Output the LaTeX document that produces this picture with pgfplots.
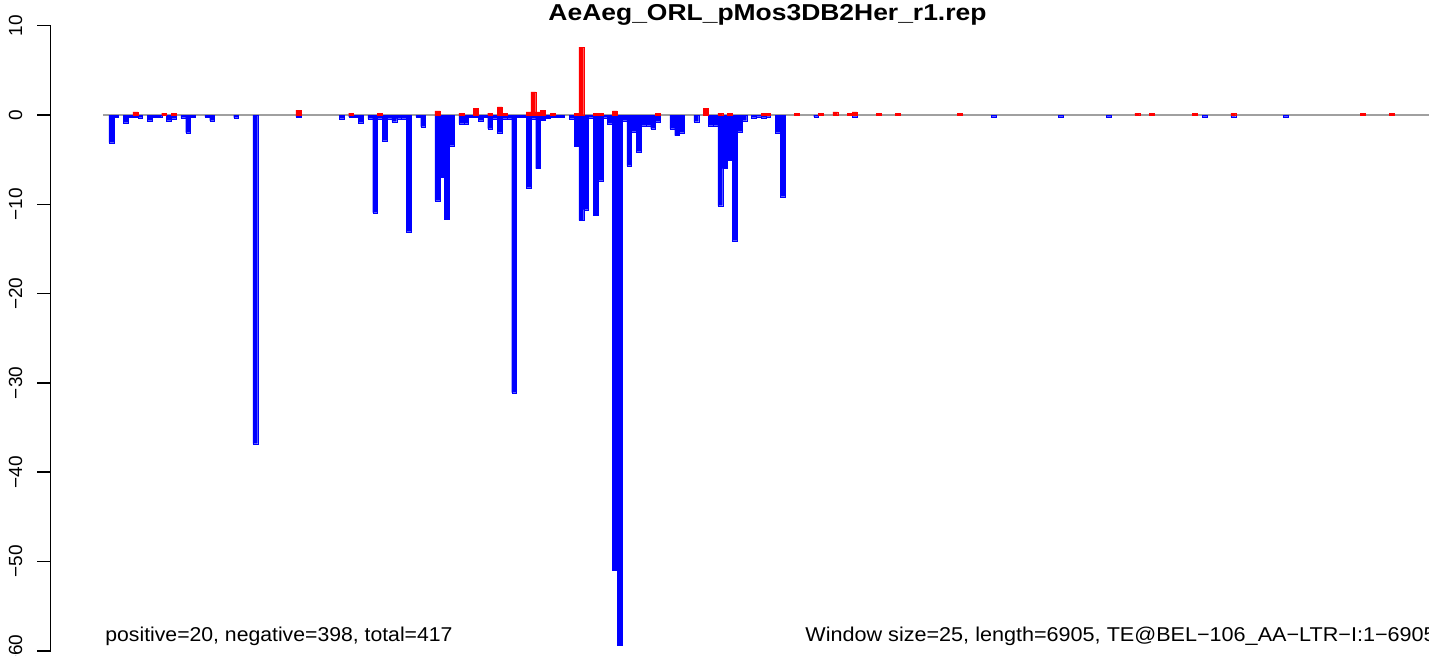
\documentclass[border=0pt]{standalone}
\usepackage{pgfplots}
\pgfplotsset{compat=1.18}
\usepackage{pgfplotstable}
\usepackage{graphicx}
\usepackage{fontspec}
\setmainfont{Liberation Sans}
\definecolor{rred}{RGB}{255,0,0}
\definecolor{rblue}{RGB}{0,0,255}
\definecolor{zline}{RGB}{160,160,160}

\pgfplotstableread{
k v
0 -3.1
1 -0.2
3 -0.86
4 -0.2
5 -0.2
6 -0.3
8 -0.64
9 -0.2
10 -0.2
12 -0.64
13 -0.41
15 -0.3
16 -1.98
17 -0.2
20 -0.2
21 -0.64
26 -0.3
30 -36.8
39 -0.2
48 -0.41
50 -0.2
51 -0.2
52 -0.86
54 -0.41
55 -10.94
56 -0.41
57 -2.87
58 -0.41
59 -0.75
60 -0.41
61 -0.41
62 -13.06
64 -0.2
65 -1.3
68 -9.6
69 -7.0
70 -11.7
71 -3.43
73 -0.97
74 -0.97
75 -0.2
76 -0.2
77 -0.64
78 -0.2
79 -1.53
80 -0.41
81 -1.98
82 -0.41
83 -0.41
84 -31.1
85 -0.2
86 -0.2
87 -8.14
88 -0.41
89 -6.0
90 -0.56
91 -0.34
92 -0.2
93 -0.2
94 -0.2
96 -0.41
97 -3.47
98 -11.8
99 -10.6
100 -0.3
101 -11.2
102 -7.35
103 -0.3
104 -0.97
105 -50.95
106 -59.35
107 -0.64
108 -5.68
109 -1.87
110 -4.1
111 -1.2
112 -1.2
113 -1.53
114 -0.75
117 -1.53
118 -2.3
119 -1.98
122 -0.75
125 -1.2
126 -1.2
127 -10.15
128 -6.0
129 -5.1
130 -14.07
131 -1.87
132 -0.64
134 -0.3
135 -0.19
136 -0.3
137 -0.19
139 -1.98
140 -9.15
147 -0.19
155 -0.19
184 -0.19
198 -0.19
208 -0.19
228 -0.19
234 -0.19
245 -0.19
}\negdata

\pgfplotstableread{
k v
5 0.34
11 0.22
13 0.22
39 0.56
50 0.22
56 0.22
68 0.45
73 0.22
76 0.78
79 0.22
81 0.9
82 0.22
87 0.34
88 2.6
89 0.34
90 0.56
92 0.22
97 0.22
98 7.6
101 0.22
102 0.22
105 0.45
114 0.22
124 0.78
127 0.22
129 0.22
136 0.22
137 0.22
143 0.22
148 0.22
151 0.34
154 0.22
155 0.34
160 0.22
164 0.22
177 0.22
214 0.22
217 0.22
226 0.22
234 0.22
261 0.22
267 0.22
}\posdata

\begin{document}
\begin{tikzpicture}
\begin{axis}[
  at={(25.35pt,-325.4pt)}, anchor=south west,
  scale only axis, width=689.15pt, height=312.55pt,
  xmin=-12.16, xmax=275.34, ymin=-60, ymax=10,
  axis x line=none, axis y line*=left,
  ytick={-60,-50,-40,-30,-20,-10,0,10},
  yticklabels={−60,−50,−40,−30,−20,−10,0,10},
  tick align=outside, major tick length=6.65pt,
  axis line style={line width=0.75pt, black},
  tick style={line width=0.75pt, black},
  yticklabel shift=4pt,
  yticklabel style={rotate=90, anchor=south, font=\fontsize{9.5}{10}\selectfont},
  clip=false,
]
\addplot[zline, line width=1pt] coordinates {(-1.19,0) (276.5,0)};
\addplot[ybar, bar width=1, bar shift=0pt, fill=rblue, draw=rblue, line width=0.1pt]
  table[x expr=\thisrow{k}+0.5, y=v] {\negdata};
\addplot[ybar, bar width=1, bar shift=0pt, fill=rred, draw=rred, line width=0.1pt]
  table[x expr=\thisrow{k}+0.5, y=v] {\posdata};
\end{axis}
\node[anchor=base] at (383.75pt,-10.35pt) {\scalebox{1.15}[1]{\fontsize{11.5}{13}\selectfont\bfseries AeAeg\_ORL\_pMos3DB2Her\_r1.rep}};
\node[anchor=base west, inner sep=0pt] at (52.5pt,-321pt) {\scalebox{1.06}[1]{\fontsize{10}{12}\selectfont positive=20, negative=398, total=417}};
\node[anchor=base west, inner sep=0pt] at (402.5pt,-321pt) {\scalebox{1.08}[1]{\fontsize{10}{12}\selectfont Window size=25, length=6905, TE@BEL−106\_AA−LTR−I:1−6905}};
\pgfresetboundingbox
\useasboundingbox (0,0) rectangle (714.5pt,-328pt);
\end{tikzpicture}
\end{document}
